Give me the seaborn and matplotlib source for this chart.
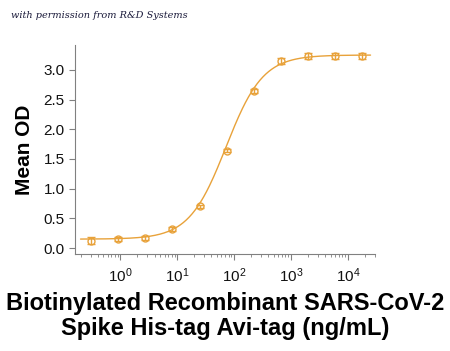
import numpy as np
import pandas as pd
import seaborn as sns
import matplotlib.pyplot as plt

# measured points (3-fold dilution series)
conc = [0.30, 0.91, 2.74, 8.2, 24.7, 74, 222, 667, 2000, 6000, 18000]
mean_od = [0.12, 0.15, 0.17, 0.32, 0.70, 1.64, 2.64, 3.15, 3.23, 3.24, 3.24]
sd_od = [0.06, 0.03, 0.03, 0.03, 0.03, 0.03, 0.03, 0.05, 0.05, 0.05, 0.05]

# 4PL fit parameters
bottom, top, ec50, hill = 0.15, 3.25, 72.0, 1.34

orange = '#E8A23A'

sns.set_style('ticks')
plt.rcParams['font.family'] = ['Liberation Sans', 'DejaVu Sans']

fig = plt.figure(figsize=(4.5, 3.51), dpi=100)
ax = fig.add_axes([0.1667, 0.2764, 0.6667, 0.5956])

xs = np.logspace(np.log10(0.2), np.log10(25000), 300)
fit = pd.DataFrame({'x': xs, 'y': bottom + (top - bottom) / (1 + (ec50 / xs) ** hill)})
sns.lineplot(data=fit, x='x', y='y', color=orange, lw=1.0, ax=ax)

ax.errorbar(conc, mean_od, yerr=sd_od, fmt='o', mfc='none', mec=orange, ms=5,
            mew=1.0, ecolor=orange, elinewidth=1.0, capsize=3, capthick=1.0)

ax.set_xscale('log')
ax.set_xlim(0.16, 30000)
ax.set_ylim(-0.1, 3.42)
ax.set_yticks([0, 0.5, 1.0, 1.5, 2.0, 2.5, 3.0])
ax.set_yticklabels(['0.0', '0.5', '1.0', '1.5', '2.0', '2.5', '3.0'])
ax.set_xticks([1, 10, 100, 1000, 10000])

for s in ['left', 'bottom']:
    ax.spines[s].set_color('#808080')
    ax.spines[s].set_linewidth(0.8)
sns.despine(ax=ax)
ax.tick_params(axis='both', which='major', colors='#808080', labelcolor='#111111',
               labelsize=11, length=4, width=0.8)
ax.tick_params(axis='x', which='minor', colors='#808080', length=2, width=0.6)
ax.tick_params(axis='x', pad=5)

ax.set_xlabel('')
ax.set_ylabel('Mean OD', fontsize=15, fontweight='bold', labelpad=7, color='black')

fig.text(0.5, 0.1, 'Biotinylated Recombinant SARS-CoV-2\nSpike His-tag Avi-tag (ng/mL)',
         ha='center', va='center', fontsize=17, fontweight='bold', linespacing=1.12,
         color='black')
fig.text(0.025, 0.955, 'with permission from R&D Systems', fontsize=7,
         style='italic', family='DejaVu Serif', color='#1a1a3a', va='center')

fig.savefig('out.png', dpi=100)
